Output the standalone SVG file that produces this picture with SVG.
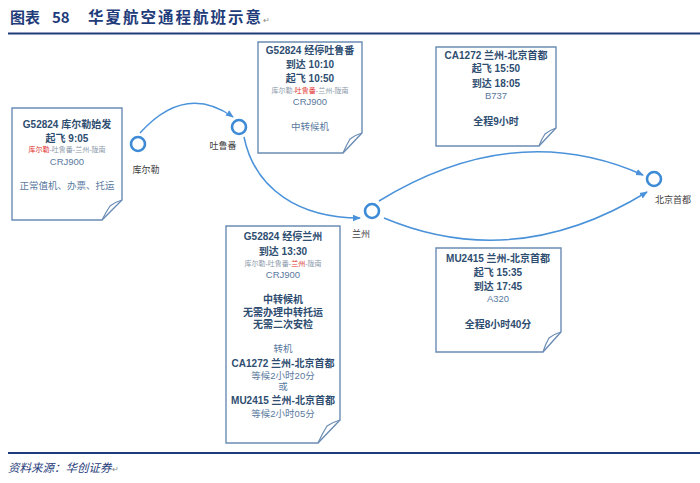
<svg xmlns="http://www.w3.org/2000/svg" width="700" height="483" viewBox="0 0 700 483">
<style>
text{font-family:"Liberation Sans","Noto Sans CJK SC",sans-serif}
.t{font-family:"Noto Sans CJK SC",sans-serif;font-weight:bold;fill:#1f3c7a}
.b{font-size:10px;font-weight:bold;fill:#2e4d70;text-anchor:middle}
.r{font-size:9.5px;fill:#5a7aa0;text-anchor:middle}
.s{font-size:7px;fill:#8a98a8;text-anchor:middle}
.red{fill:#e0302c}
.lbl{font-size:9px;fill:#404040;text-anchor:middle}
.box{fill:#fff;stroke:#6a8cb4;stroke-width:1.4}
.fold{fill:none;stroke:#6a8cb4;stroke-width:1.2}
.ap{fill:#fff;stroke:#3d8bd6;stroke-width:2.6}
.c{fill:none;stroke:#4a92da;stroke-width:1.5;marker-end:url(#ah)}
</style>
<defs>
<marker id="ah" markerUnits="userSpaceOnUse" markerWidth="8" markerHeight="8" viewBox="0 0 8 8" refX="7" refY="4" orient="auto">
<path d="M0,0.8 L8,4 L0,7.2 Z" fill="#4a92da"/>
</marker>
</defs>
<rect width="700" height="483" fill="#fff"/>
<g id="title">
<text class="t" x="10" y="23" font-size="15">图表</text>
<text class="t" x="52" y="23" font-size="15" font-family="Liberation Serif">58</text>
<text class="t" x="88" y="23" font-size="15.5" textLength="173" lengthAdjust="spacing">华夏航空通程航班示意</text>
<text x="263" y="23" font-size="8" fill="#888">↵</text>
<line x1="8" y1="33.5" x2="700" y2="33.5" stroke="#1f3c7a" stroke-width="2"/>
</g>
<g id="connectors">
<path class="c" d="M140,133 Q185,83 233,117"/>
<path class="c" d="M244,137 C255,190 300,218 360,218"/>
<path class="c" d="M379,201 Q515,118 643,175"/>
<path class="c" d="M384,218 Q515,273 647,192"/>
</g>
<g id="airport-korla">
<circle class="ap" cx="138" cy="144" r="7"/>
<text class="lbl" x="146" y="173">库尔勒</text>
</g>
<g id="airport-turpan">
<circle class="ap" cx="239" cy="127" r="7"/>
<text class="lbl" x="223" y="149">吐鲁番</text>
</g>
<g id="airport-lanzhou">
<circle class="ap" cx="372" cy="211" r="7"/>
<text class="lbl" x="361" y="237">兰州</text>
</g>
<g id="airport-beijing">
<circle class="ap" cx="654" cy="179" r="7"/>
<text class="lbl" x="673" y="203">北京首都</text>
</g>
<g id="box-korla">
<path class="box" d="M12,108 H122 V200 L102,220 H12 Z"/>
<path class="fold" d="M122,200 Q115,202 110,206 Q106,212 102,220"/>
<text class="b" x="67" y="128">G52824 库尔勒始发</text>
<text class="b" x="67" y="142">起飞 9:05</text>
<text class="s" x="67" y="152"><tspan class="red">库尔勒</tspan>-吐鲁番-兰州-陇南</text>
<text class="r" x="67" y="165">CRJ900</text>
<text class="r" x="67" y="189">正常值机、办票、托运</text>
</g>
<g id="box-turpan">
<path class="box" d="M258,42 H362 V133 L343,153 H258 Z"/>
<path class="fold" d="M362,133 Q355,135 350,139 Q346,146 343,153"/>
<text class="b" x="310" y="54">G52824 经停吐鲁番</text>
<text class="b" x="310" y="68">到达 10:10</text>
<text class="b" x="310" y="82">起飞 10:50</text>
<text class="s" x="310" y="93">库尔勒-<tspan class="red">吐鲁番</tspan>-兰州-陇南</text>
<text class="r" x="310" y="105">CRJ900</text>
<text class="r" x="310" y="130">中转候机</text>
</g>
<g id="box-ca1272">
<path class="box" d="M436,47 H556 V128 L539,146 H436 Z"/>
<path class="fold" d="M556,128 Q550,130 545,134 Q541,140 539,146"/>
<text class="b" x="496" y="59">CA1272 兰州-北京首都</text>
<text class="b" x="496" y="72">起飞 15:50</text>
<text class="b" x="496" y="87">到达 18:05</text>
<text class="r" x="496" y="99">B737</text>
<text class="b" x="496" y="125">全程9小时</text>
</g>
<g id="box-lanzhou">
<path class="box" d="M226,226 H340 V420 L318,443 H226 Z"/>
<path class="fold" d="M340,420 Q333,422 327,426 Q322,434 318,443"/>
<text class="b" x="283" y="240">G52824 经停兰州</text>
<text class="b" x="283" y="255">到达 13:30</text>
<text class="s" x="283" y="266">库尔勒-吐鲁番-<tspan class="red">兰州</tspan>-陇南</text>
<text class="r" x="283" y="278">CRJ900</text>
<text class="b" x="283" y="303">中转候机</text>
<text class="b" x="283" y="316">无需办理中转托运</text>
<text class="b" x="283" y="328">无需二次安检</text>
<text class="r" x="283" y="352">转机</text>
<text class="b" x="283" y="367">CA1272 兰州-北京首都</text>
<text class="r" x="283" y="379">等候2小时20分</text>
<text class="r" x="283" y="390">或</text>
<text class="b" x="283" y="404">MU2415 兰州-北京首都</text>
<text class="r" x="283" y="417">等候2小时05分</text>
</g>
<g id="box-mu2415">
<path class="box" d="M436,248 H561 V332 L543,352 H436 Z"/>
<path class="fold" d="M561,332 Q554,334 549,338 Q545,345 543,352"/>
<text class="b" x="498" y="262">MU2415 兰州-北京首都</text>
<text class="b" x="498" y="276">起飞 15:35</text>
<text class="b" x="498" y="290">到达 17:45</text>
<text class="r" x="498" y="302">A320</text>
<text class="b" x="498" y="328">全程8小时40分</text>
</g>
<g id="footer">
<line x1="8" y1="453" x2="700" y2="453" stroke="#1f3c7a" stroke-width="2"/>
<text x="8" y="472" font-size="11.5" font-style="italic" fill="#1f3c7a" font-family="Noto Sans CJK SC,sans-serif">资料来源：华创证券</text>
<text x="112" y="472" font-size="8" fill="#888">↵</text>
</g>
</svg>
